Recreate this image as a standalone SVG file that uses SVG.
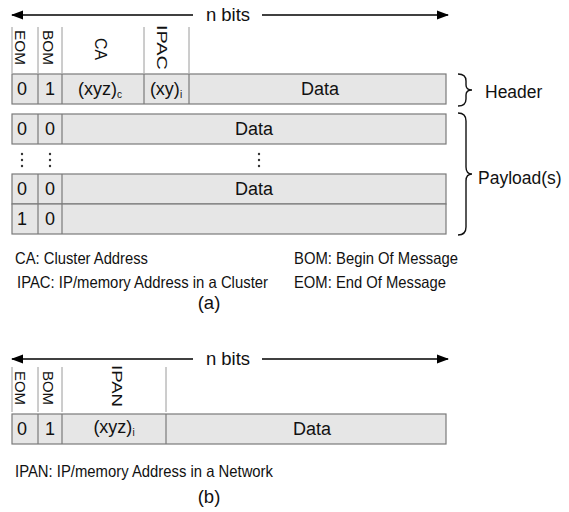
<svg xmlns="http://www.w3.org/2000/svg" width="569" height="512" viewBox="0 0 569 512">
<style>
text{font-family:"Liberation Sans",Arial,sans-serif;fill:#111}
.cell{fill:#e6e6e6;stroke:#7a7a7a;stroke-width:1.2}
.sep{stroke:#9a9a9a;stroke-width:1}
.csep{stroke:#7a7a7a;stroke-width:1.2}
.row{font-size:18px;text-anchor:middle}
.sub{font-size:10px}
.vl{font-size:14.5px}
.leg{font-size:16.5px}
.cap{font-size:18.5px;text-anchor:middle}
.lab{font-size:17.5px}
.arr{stroke:#000;stroke-width:1.5;fill:none}
.brace{stroke:#111;stroke-width:1.4;fill:none}
.dot{fill:#333}
</style>
<defs>
<marker id="ah" viewBox="0 0 12 10" refX="11" refY="5" markerWidth="12" markerHeight="10" markerUnits="userSpaceOnUse" orient="auto-start-reverse">
<path d="M0,0.5 L12,5 L0,9.5 Z" fill="#000"/>
</marker>
</defs>

<g id="connectors">
<line class="arr" x1="12" y1="15" x2="193" y2="15" marker-start="url(#ah)"/>
<line class="arr" x1="262" y1="15" x2="448" y2="15" marker-end="url(#ah)"/>
<line class="arr" x1="12" y1="359" x2="193" y2="359" marker-start="url(#ah)"/>
<line class="arr" x1="262" y1="359" x2="448" y2="359" marker-end="url(#ah)"/>
<path class="brace" d="M458,74 Q466,74 466,81 L466,85 Q466,90 472,90 Q466,90 466,95 L466,99 Q466,106 458,106"/>
<path class="brace" d="M458,113 Q466,113 466,121 L466,167 Q466,174 472,174 Q466,174 466,181 L466,227 Q466,235 458,235"/>
</g>

<g id="nbits-a"><text x="228" y="21" class="cap">n bits</text></g>

<g id="header-labels-a">
<line class="sep" x1="12" y1="27" x2="12" y2="73"/>
<line class="sep" x1="38" y1="27" x2="38" y2="73"/>
<line class="sep" x1="62" y1="27" x2="62" y2="73"/>
<line class="sep" x1="144" y1="27" x2="144" y2="73"/>
<line class="sep" x1="189" y1="27" x2="189" y2="73"/>
<text class="vl" transform="translate(15,30) rotate(90)" textLength="35" lengthAdjust="spacingAndGlyphs">EOM</text>
<text class="vl" transform="translate(43,30) rotate(90)" textLength="35" lengthAdjust="spacingAndGlyphs">BOM</text>
<text class="vl" transform="translate(95,38) rotate(90)" style="font-size:16.5px" textLength="22" lengthAdjust="spacingAndGlyphs">CA</text>
<text class="vl" transform="translate(157,25) rotate(90)" style="font-size:15.5px" textLength="45" lengthAdjust="spacingAndGlyphs">IPAC</text>
</g>

<g id="header-row-a">
<rect class="cell" x="12" y="74" width="434" height="30"/>
<line class="csep" x1="38" y1="74" x2="38" y2="104"/>
<line class="csep" x1="62" y1="74" x2="62" y2="104"/>
<line class="csep" x1="144" y1="74" x2="144" y2="104"/>
<line class="csep" x1="189" y1="74" x2="189" y2="104"/>
<text class="row" x="22" y="95">0</text>
<text class="row" x="50" y="95">1</text>
<text class="row" x="100" y="95">(xyz)<tspan class="sub" dy="3">c</tspan></text>
<text class="row" x="166" y="95">(xy)<tspan class="sub" dy="3">i</tspan></text>
<text class="row" x="320" y="95">Data</text>
</g>
<g id="header-label"><text class="lab" x="485" y="98">Header</text></g>

<g id="payload-1">
<rect class="cell" x="12" y="114" width="434" height="30"/>
<line class="csep" x1="38" y1="114" x2="38" y2="144"/>
<line class="csep" x1="62" y1="114" x2="62" y2="144"/>
<text class="row" x="22" y="135">0</text>
<text class="row" x="50" y="135">0</text>
<text class="row" x="254" y="135">Data</text>
</g>
<g id="payload-dots">
<circle class="dot" cx="22" cy="154" r="1.2"/><circle class="dot" cx="22" cy="160" r="1.2"/><circle class="dot" cx="22" cy="166" r="1.2"/>
<circle class="dot" cx="50" cy="154" r="1.2"/><circle class="dot" cx="50" cy="160" r="1.2"/><circle class="dot" cx="50" cy="166" r="1.2"/>
<circle class="dot" cx="259" cy="154" r="1.2"/><circle class="dot" cx="259" cy="160" r="1.2"/><circle class="dot" cx="259" cy="166" r="1.2"/>
</g>
<g id="payload-2">
<rect class="cell" x="12" y="174" width="434" height="30"/>
<line class="csep" x1="38" y1="174" x2="38" y2="204"/>
<line class="csep" x1="62" y1="174" x2="62" y2="204"/>
<text class="row" x="22" y="195">0</text>
<text class="row" x="50" y="195">0</text>
<text class="row" x="254" y="195">Data</text>
</g>
<g id="payload-3">
<rect class="cell" x="12" y="204" width="434" height="30"/>
<line class="csep" x1="38" y1="204" x2="38" y2="234"/>
<line class="csep" x1="62" y1="204" x2="62" y2="234"/>
<text class="row" x="22" y="225">1</text>
<text class="row" x="50" y="225">0</text>
</g>
<g id="payload-label"><text class="lab" x="478" y="184">Payload(s)</text></g>

<g id="legend-a">
<text class="leg" x="15" y="264" textLength="133" lengthAdjust="spacingAndGlyphs">CA: Cluster Address</text>
<text class="leg" x="17" y="288" textLength="251" lengthAdjust="spacingAndGlyphs">IPAC: IP/memory Address in a Cluster</text>
<text class="leg" x="294" y="264" textLength="164" lengthAdjust="spacingAndGlyphs">BOM: Begin Of Message</text>
<text class="leg" x="294" y="288" textLength="152" lengthAdjust="spacingAndGlyphs">EOM: End Of Message</text>
<text class="cap" x="209" y="309">(a)</text>
</g>

<g id="nbits-b"><text x="228" y="365" class="cap">n bits</text></g>

<g id="header-labels-b">
<line class="sep" x1="12" y1="367" x2="12" y2="412"/>
<line class="sep" x1="38" y1="367" x2="38" y2="412"/>
<line class="sep" x1="62" y1="367" x2="62" y2="412"/>
<line class="sep" x1="166" y1="367" x2="166" y2="412"/>
<text class="vl" transform="translate(15,371) rotate(90)" textLength="34" lengthAdjust="spacingAndGlyphs">EOM</text>
<text class="vl" transform="translate(43,371) rotate(90)" textLength="34" lengthAdjust="spacingAndGlyphs">BOM</text>
<text class="vl" transform="translate(112,365) rotate(90)" style="font-size:15.5px" textLength="42" lengthAdjust="spacingAndGlyphs">IPAN</text>
</g>

<g id="header-row-b">
<rect class="cell" x="12" y="414" width="434" height="30"/>
<line class="csep" x1="38" y1="414" x2="38" y2="444"/>
<line class="csep" x1="62" y1="414" x2="62" y2="444"/>
<line class="csep" x1="166" y1="414" x2="166" y2="444"/>
<text class="row" x="22" y="435">0</text>
<text class="row" x="50" y="435">1</text>
<text class="row" x="114" y="433">(xyz)<tspan class="sub" dy="3">i</tspan></text>
<text class="row" x="312" y="435">Data</text>
</g>

<g id="legend-b">
<text class="leg" x="15" y="477" textLength="258" lengthAdjust="spacingAndGlyphs">IPAN: IP/memory Address in a Network</text>
<text class="cap" x="209" y="503">(b)</text>
</g>
</svg>
